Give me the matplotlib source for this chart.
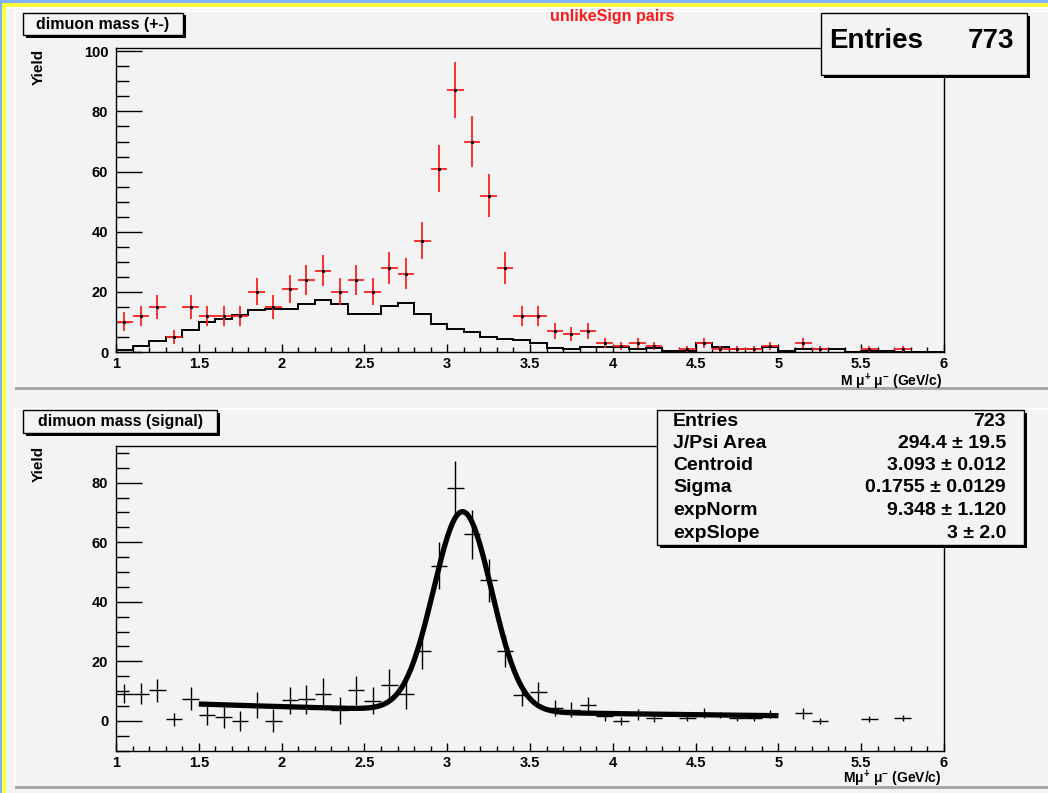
import numpy as np
import matplotlib
matplotlib.use('Agg')
import matplotlib.pyplot as plt
from matplotlib.patches import Rectangle
from matplotlib.ticker import MultipleLocator, FuncFormatter

plt.rcParams['font.family'] = ['Liberation Sans', 'DejaVu Sans']
plt.rcParams['font.weight'] = 'bold'
plt.rcParams['mathtext.fontset'] = 'custom'
plt.rcParams['mathtext.rm'] = 'Liberation Sans:bold'
plt.rcParams['mathtext.it'] = 'Liberation Sans:bold'
plt.rcParams['mathtext.default'] = 'regular'

# binning: 50 bins of 0.1 GeV/c from 1 to 6
edges = np.linspace(1.0, 6.0, 51)
centers = 0.5 * (edges[:-1] + edges[1:])

# unlike-sign pairs (red points)
unlike = [10, 12, 15, 5, 15, 12, 12, 12, 20, 15,
          21, 24, 27, 20, 24, 20, 28, 26, 37, 61,
          87, 70, 52, 28, 12, 12, 7, 6, 7, 3,
          2, 3, 2, 0, 1, 3, 1, 1, 1, 2,
          0, 3, 1, 0, 0, 1, 0, 1, 0, 0]

# like-sign background (black histogram)
likesign = [0.6, 2.0, 3.7, 5.0, 7.2, 10.0, 11.1, 12.2, 13.9, 14.4,
            14.4, 16.1, 17.4, 15.9, 12.8, 12.8, 15.2, 16.3, 12.8, 9.4,
            7.8, 6.7, 5.0, 4.4, 3.9, 2.9, 1.4, 1.1, 1.7, 1.7,
            1.7, 0.9, 1.4, 0.3, 0.3, 2.9, 1.7, 0.9, 0.9, 1.7,
            0.3, 0.9, 0.9, 0.9, 0.0, 0.3, 0.3, 0.1, 0.0, 0.0]

# background-subtracted signal (nan = empty bin, not drawn)
nan = np.nan
signal = [9.2, 9.2, 10.3, 0.5, 7.5, 2.0, 1.2, 0.0, 5.4, 0.0,
          6.9, 7.3, 9.2, 3.6, 10.3, 6.8, 12.0, 9.2, 23.5, 52.1,
          78.1, 62.6, 47.3, 23.5, 8.6, 9.7, 4.3, 3.8, 5.3, 1.7,
          0.0, 2.2, 1.0, nan, 1.0, 2.6, 2.0, 1.0, 1.0, 2.3,
          nan, 2.5, 0.0, nan, nan, 0.6, nan, 1.0, nan, nan]

# fit results shown in the stats box
fit_area = 294.4
fit_mean = 3.093
fit_sigma = 0.1755
fit_norm = 9.348
fit_slope = 3.0
fit_range = (1.5, 5.0)

entries_top = '773'
stat_names = ['Entries', 'J/Psi Area', 'Centroid', 'Sigma', 'expNorm', 'expSlope']
stat_values = ['723', '294.4 \u00b1 19.5', '3.093 \u00b1 0.012', '0.1755 \u00b1 0.0129',
               '9.348 \u00b1 1.120', '3 \u00b1 2.0']

W, H = 1048, 793
bg = '#f3f3f3'
fig = plt.figure(figsize=(W / 100, H / 100), dpi=100, facecolor=bg)


def box(x0, y0, x1, y1, **kw):
    r = Rectangle((x0 / W, 1 - y1 / H), (x1 - x0) / W, (y1 - y0) / H,
                  transform=fig.transFigure, **kw)
    fig.add_artist(r)
    return r


def label_box(x0, y0, x1, y1, sh=2.5, z=5):
    box(x0 + sh, y0 + sh, x1 + sh, y1 + sh, facecolor='black', lw=0, zorder=z)
    box(x0, y0, x1, y1, facecolor=bg, edgecolor='black', lw=1.0, zorder=z + 0.1)


def ftext(x, y, s, **kw):
    kw.setdefault('fontweight', 'bold')
    return fig.text(x / W, 1 - y / H, s, **kw)


# window border (blue / yellow) on top and left
box(0, 0, W, 3, facecolor='#80b0ff', lw=0)
box(0, 3, W, 7, facecolor='#ffff40', lw=0)
box(0, 0, 2, H, facecolor='#80b0ff', lw=0)
box(2, 3, 6, H, facecolor='#ffff40', lw=0)
box(6, 7, W, 9, facecolor='white', lw=0)

# pad borders
for top, bot in [(10, 387), (408, 786)]:
    box(14, top, W, top + 1.5, facecolor='white', lw=0)
    box(14, top, 15.5, bot, facecolor='white', lw=0)
    box(15, bot, W, bot + 3, facecolor='#a8a8a8', lw=0)


def style_axes(ax, ymin, ymax):
    ax.set_facecolor('none')
    ax.set_xlim(1, 6)
    ax.set_ylim(ymin, ymax)
    for s in ax.spines.values():
        s.set_linewidth(1.0)
    ax.xaxis.set_major_locator(MultipleLocator(0.5))
    ax.xaxis.set_minor_locator(MultipleLocator(0.1))
    ax.yaxis.set_major_locator(MultipleLocator(20))
    ax.yaxis.set_minor_locator(MultipleLocator(5))
    fmt = FuncFormatter(lambda v, p: '%g' % v)
    ax.xaxis.set_major_formatter(fmt)
    ax.yaxis.set_major_formatter(fmt)
    ax.tick_params(which='both', direction='in', top=False, right=False, width=1.0)
    ax.tick_params(axis='y', which='major', length=18.7, pad=5.5, labelsize=10.5)
    ax.tick_params(axis='y', which='minor', length=9.4)
    ax.tick_params(axis='x', which='major', length=6, pad=3.5, labelsize=10.5)
    ax.tick_params(axis='x', which='minor', length=3.6)
    for lab in ax.get_xticklabels() + ax.get_yticklabels():
        lab.set_fontweight('bold')


# ---- top pad: unlike-sign pairs with like-sign background ----
ax1 = fig.add_axes([116 / W, 1 - 352 / H, 828 / W, 304 / H])
style_axes(ax1, 0, 101.1)
ax1.stairs(likesign, edges, color='black', lw=1.4, baseline=None)
u = np.array(unlike, dtype=float)
m = u > 0
ax1.errorbar(centers[m], u[m], xerr=0.05, yerr=np.sqrt(u[m]), fmt='s', ms=1.2,
             mfc='black', mec='black', ecolor='#ff2020', elinewidth=1.3, capsize=0)

# ---- bottom pad: signal with fit ----
ax2 = fig.add_axes([116 / W, 1 - 750.7 / H, 828 / W, 305 / H])
style_axes(ax2, -10, 92.4)
s = np.array(signal, dtype=float)
m2 = ~np.isnan(s)
ax2.errorbar(centers[m2], s[m2], xerr=0.05, yerr=np.sqrt(u[m2]), fmt='none',
             ecolor='black', elinewidth=1.0, capsize=0)
xf = np.linspace(fit_range[0], fit_range[1], 400)
bw = edges[1] - edges[0]
yf = (bw * fit_area / (np.sqrt(2 * np.pi) * fit_sigma)
      * np.exp(-0.5 * ((xf - fit_mean) / fit_sigma) ** 2)
      + fit_norm * np.exp(-xf / fit_slope))
ax2.plot(xf, yf, color='black', lw=3.8, solid_capstyle='butt')

# titles, axis labels
label_box(23, 13, 183, 35)
ftext(103, 24, 'dimuon mass (+-)', ha='center', va='center', fontsize=11.5, zorder=7)
label_box(23, 410, 217, 433)
ftext(120, 421.5, 'dimuon mass (signal)', ha='center', va='center', fontsize=11.5, zorder=7)

ftext(612, 16, 'unlikeSign pairs', ha='center', va='center', fontsize=11.5, color='#ff1a1a')

for yc in (49, 446):
    ftext(39, yc, 'Yield', rotation=90, ha='center', va='top', fontsize=11)
ftext(942, 382, r'M $\mu^{+}$ $\mu^{-}$ (GeV/c)', ha='right', va='center', fontsize=10)
ftext(942, 779, r'M$\mu^{+}$ $\mu^{-}$ (GeV/c)', ha='right', va='center', fontsize=10)

# stats boxes
label_box(821, 13, 1027, 75, sh=3)
ftext(829, 41, 'Entries', ha='left', va='center', fontsize=20, zorder=8)
ftext(1014, 41, entries_top, ha='right', va='center', fontsize=20, zorder=8)

label_box(657, 410, 1024, 545, sh=3)
row_y = [421, 443.5, 466, 488, 510.5, 533]
for yc, name, val in zip(row_y, stat_names, stat_values):
    ftext(673, yc, name, ha='left', va='center', fontsize=14, zorder=8)
    ftext(1006, yc, val, ha='right', va='center', fontsize=14, zorder=8)

fig.savefig('out.png', dpi=100, facecolor=bg)
